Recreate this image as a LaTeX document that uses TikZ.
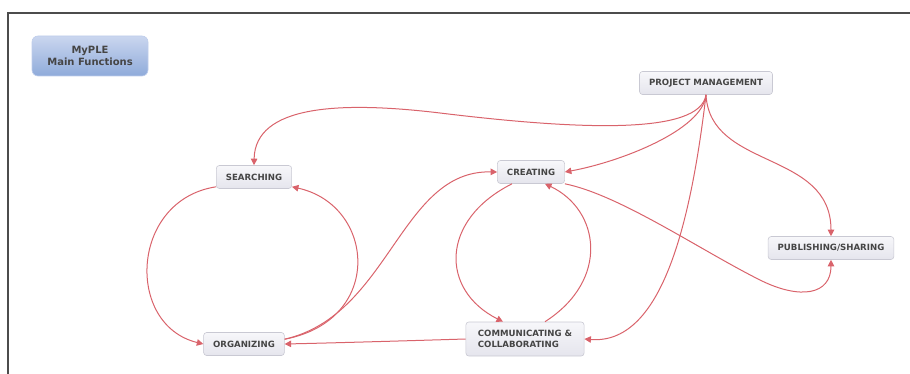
\documentclass[tikz,border=0pt]{standalone}
\usepackage{fontspec}
\setmainfont{DejaVu Sans}
\usepackage{xcolor}
\usetikzlibrary{arrows.meta, positioning, calc}

\definecolor{linkred}{HTML}{D9636B}
\definecolor{boxline}{HTML}{C9C9D3}
\definecolor{boxtop}{HTML}{F7F7FA}
\definecolor{boxbot}{HTML}{E5E5ED}
\definecolor{titletop}{HTML}{CAD6EF}
\definecolor{titlebot}{HTML}{8FABDA}
\definecolor{txtgray}{HTML}{454545}

\begin{document}
\begin{tikzpicture}[
    x=1pt, y=-1pt,
    func/.style={draw=boxline, rounded corners=3pt, top color=boxtop, bottom color=boxbot,
                 minimum height=23pt, inner xsep=9.5pt, inner ysep=2pt,
                 font=\fontsize{8.6}{10.5}\selectfont\bfseries, text=txtgray, line width=0.6pt},
    title/.style={draw=titletop!80!titlebot, rounded corners=6pt, top color=titletop, bottom color=titlebot,
                  minimum width=116pt, minimum height=40pt, align=center,
                  font=\fontsize{10}{12}\selectfont\bfseries, text=txtgray, line width=0.6pt},
    link/.style={-{Triangle[length=6.5pt, width=6.5pt]}, line width=1pt, linkred},
]
\useasboundingbox (0,0) rectangle (910,374);

% --- Frame ---
\draw[line width=1.3pt, black!70] (910,13) -- (8,13) -- (8,374);

% --- Nodes ---
\node[title] (myple) at (90,56) {MyPLE\\Main Functions};
\node[func] (pm)     at (706,83)  {PROJECT MANAGEMENT};
\node[func] (search) at (254,177) {SEARCHING};
\node[func] (create) at (531,172) {CREATING};
\node[func] (pub)    at (831,248) {PUBLISHING/SHARING};
\node[func] (org)    at (244,344) {ORGANIZING};
\node[func, align=left, minimum height=34pt, inner xsep=12pt] (comm) at (525,339)
     {COMMUNICATING \&\\COLLABORATING};

% ===================== EDGES =====================

% Project management -> Searching (long sweep over the top)
\draw[link] (pm.south) .. controls (700,135) and (580,130) .. (440,113)
            .. controls (340,101) and (255,105) .. (search.north);

% Project management -> Creating
\draw[link] (pm.south) .. controls (703,130) and (620,162) .. (create.east);

% Project management -> Communicating
\draw[link] (pm.south) .. controls (690,230) and (660,345) .. (comm.east);

% Project management -> Publishing
\draw[link] (pm.south) .. controls (710,170) and (831,150) .. (pub.north);

% Creating -> Publishing (loops under, enters from below)
\draw[link] (create.south east) .. controls (620,195) and (700,250) .. (760,280)
            .. controls (800,300) and (831,295) .. (pub.south);

% Searching -> Organizing
\draw[link] ([yshift=2pt]search.south west) .. controls (130,200) and (125,325) .. (org.west);

% Organizing -> Searching
\draw[link] ([yshift=-7pt]org.north east) .. controls (385,320) and (375,205) .. ([yshift=2pt]search.south east);

% Organizing -> Creating
\draw[link] ([yshift=-7pt]org.north east) .. controls (390,315) and (400,170) .. (create.west);

% Creating -> Communicating
\draw[link] ([xshift=-19pt]create.south) .. controls (440,220) and (440,290) .. ([xshift=-22pt]comm.north);

% Communicating -> Creating
\draw[link] ([xshift=20pt]comm.north) .. controls (610,280) and (600,210) .. ([xshift=14pt]create.south);

% Communicating -> Organizing
\draw[link] (comm.west) .. controls (400,341) and (330,343) .. (org.east);

\end{tikzpicture}
\end{document}
